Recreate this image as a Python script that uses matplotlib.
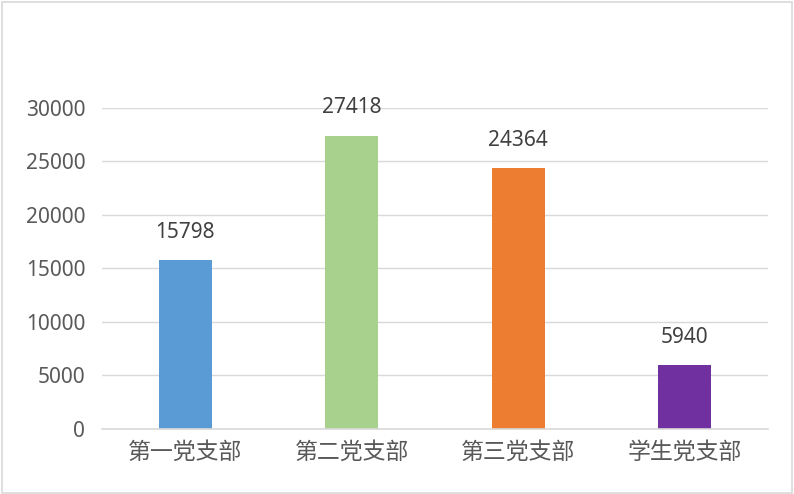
import matplotlib
matplotlib.use("Agg")
import matplotlib.pyplot as plt
from matplotlib.patches import Rectangle

# Data
categories = ["第一党支部", "第二党支部", "第三党支部", "学生党支部"]
values = [15798, 27418, 24364, 5940]
bar_colors = ["#5B9BD5", "#A9D18E", "#ED7D31", "#7030A0"]
y_ticks = [0, 5000, 10000, 15000, 20000, 25000, 30000]

plt.rcParams["font.family"] = ["Noto Sans", "DejaVu Sans"]

W, H = 794, 494
fig = plt.figure(figsize=(W / 100, H / 100), dpi=100)
ax = fig.add_axes([102 / W, 1 - 428.7 / H, (768 - 102) / W, (428.7 - 108) / H])

x = list(range(len(categories)))
bars = ax.bar(x, values, width=0.32, color=bar_colors, zorder=3)

# Value labels above each bar
for xi, v in zip(x, values):
    ax.annotate(str(v), xy=(xi, v), xytext=(0, 16), textcoords="offset points",
                ha="center", va="baseline", fontsize=15, color="#404040")

ax.set_xlim(-0.5, 3.5)
ax.set_ylim(0, 30000)
ax.set_yticks(y_ticks)
ax.set_yticklabels([str(t) for t in y_ticks], fontsize=15, color="#595959")
ax.set_xticks(x)
ax.set_xticklabels(categories, fontsize=16.5, color="#595959",
                   family=["Noto Sans CJK SC", "DejaVu Sans"])
ax.tick_params(axis="both", length=0)
ax.tick_params(axis="y", pad=12)
ax.tick_params(axis="x", pad=9)

ax.grid(axis="y", color="#D9D9D9", linewidth=1.0, zorder=0)
for side in ["top", "right", "left"]:
    ax.spines[side].set_visible(False)
ax.spines["bottom"].set_color("#D9D9D9")
ax.spines["bottom"].set_linewidth(1.2)
ax.spines["bottom"].set_zorder(4)

# Chart area border
fig.patches.append(Rectangle((1.5 / W, 1.5 / H), (W - 3.5) / W, (H - 3.5) / H,
                             transform=fig.transFigure, fill=False,
                             edgecolor="#D9D9D9", linewidth=1.2))

fig.savefig("out.png", dpi=100, facecolor="white")
